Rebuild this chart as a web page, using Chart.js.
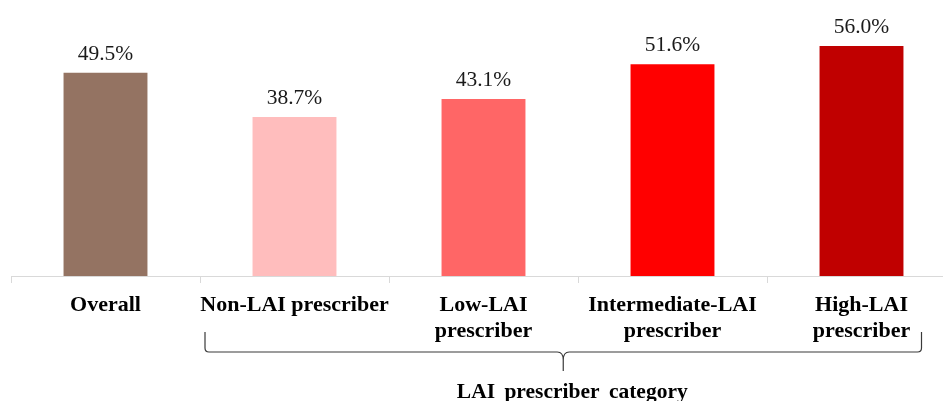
<!DOCTYPE html>
<html>
<head>
<meta charset="utf-8">
<script src="https://cdn.jsdelivr.net/npm/chart.js@4.4.0/dist/chart.umd.min.js"></script>
<style>
html, body { margin: 0; padding: 0; background: #fff; overflow: hidden; }
#wrap { position: relative; width: 960px; height: 401px; }
</style>
</head>
<body>
<div id="wrap"><canvas id="bar-chart"></canvas></div>
<script>
var categories = ["Overall", "Non-LAI prescriber", ["Low-LAI", "prescriber"], ["Intermediate-LAI", "prescriber"], ["High-LAI", "prescriber"]];
var values = [49.5, 38.7, 43.1, 51.6, 56.0];
var colors = ["#947362", "#FFBDBD", "#FF6666", "#FF0000", "#C00000"];
var groupTitle = "LAI prescriber category";

// value labels above the bars
var valueLabels = {
    id: 'valueLabels',
    afterDatasetsDraw: function(chart) {
        var ctx = chart.ctx;
        var meta = chart.getDatasetMeta(0);
        ctx.save();
        ctx.font = '21.5px "Liberation Serif"';
        ctx.fillStyle = '#1a1a1a';
        ctx.textAlign = 'center';
        ctx.textBaseline = 'alphabetic';
        meta.data.forEach(function(bar, i) {
            ctx.fillText(values[i].toFixed(1) + '%', bar.x, bar.y - 13);
        });
        ctx.restore();
    }
};

// curly brace under the prescriber categories
var brace = {
    id: 'brace',
    afterDraw: function(chart) {
        var ctx = chart.ctx;
        var xs = chart.scales.x;
        var bottom = chart.chartArea.bottom;
        var half = (xs.getPixelForValue(1) - xs.getPixelForValue(0)) / 2;
        var left = xs.getPixelForValue(1) - half + 5;
        var right = xs.getPixelForValue(4) + 60;
        var mid = (left + right) / 2;
        var top = bottom + 56, line = bottom + 76, tip = bottom + 95;
        ctx.save();
        ctx.strokeStyle = '#3a3a3a';
        ctx.lineWidth = 1.2;
        ctx.beginPath();
        ctx.moveTo(left, top);
        ctx.lineTo(left, line - 4);
        ctx.quadraticCurveTo(left, line, left + 4, line);
        ctx.lineTo(mid - 6, line);
        ctx.quadraticCurveTo(mid, line, mid, line + 8);
        ctx.lineTo(mid, tip);
        ctx.moveTo(mid, line + 8);
        ctx.quadraticCurveTo(mid, line, mid + 6, line);
        ctx.lineTo(right - 4, line);
        ctx.quadraticCurveTo(right, line, right, line - 4);
        ctx.lineTo(right, top);
        ctx.stroke();

        ctx.font = 'bold 21.5px "Liberation Serif"';
        ctx.fillStyle = '#000';
        ctx.textAlign = 'center';
        ctx.textBaseline = 'alphabetic';
        ctx.wordSpacing = '4px';
        ctx.fillText(groupTitle, mid + 9, bottom + 122);
        ctx.restore();
    }
};

new Chart(document.getElementById("bar-chart"), {
    type: 'bar',
    data: {
        labels: categories,
        datasets: [{
            data: values,
            backgroundColor: colors,
            categoryPercentage: 1,
            barPercentage: 0.444
        }]
    },
    options: {
        responsive: true,
        maintainAspectRatio: false,
        animation: false,
        layout: { padding: { left: 11, right: 4, top: 5, bottom: 0 } },
        plugins: {
            legend: { display: false },
            tooltip: { enabled: false }
        },
        scales: {
            x: {
                offset: true,
                grid: { offset: true, drawOnChartArea: false, tickLength: 7, color: '#D9D9D9', lineWidth: 1 },
                border: { color: '#D9D9D9', width: 1 },
                ticks: {
                    color: '#000',
                    padding: 10,
                    maxRotation: 0,
                    autoSkip: false,
                    font: { family: 'Liberation Serif', size: 22, weight: 'bold', lineHeight: 1.16 }
                },
                afterFit: function(scale) { scale.height = 125; }
            },
            y: {
                display: false,
                min: 0,
                max: 66
            }
        }
    },
    plugins: [valueLabels, brace]
});
</script>
</body>
</html>
